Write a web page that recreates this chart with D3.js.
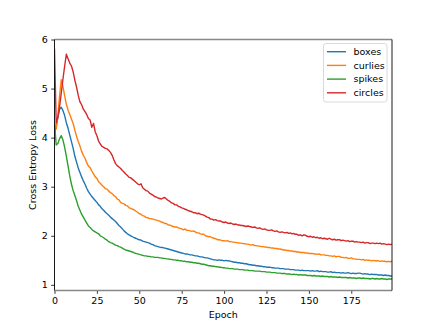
<!DOCTYPE html>
<html>
<head>
<meta charset="utf-8">
<script src="https://cdn.jsdelivr.net/npm/d3@7"></script>
<style>
  body { margin: 0; background: #fff; }
  text { font-family: "DejaVu Sans", sans-serif; }
</style>
</head>
<body>
<div id="chart"></div>
<script>
// loss per epoch
var seriesNames = ["boxes", "curlies", "spikes", "circles"];
var seriesColors = ["#1f77b4", "#ff7f0e", "#2ca02c", "#d62728"];

var boxes = [
  4.10, 4.22, 4.42, 4.58, 4.62, 4.55, 4.45, 4.30, 4.19, 4.05,
  3.92, 3.78, 3.62, 3.50, 3.38, 3.29, 3.20, 3.12, 3.05, 2.97,
  2.90, 2.85, 2.80, 2.76, 2.72, 2.68, 2.63, 2.60, 2.55, 2.52,
  2.48, 2.45, 2.42, 2.38, 2.35, 2.32, 2.29, 2.25, 2.21, 2.18,
  2.14, 2.10, 2.07, 2.04, 2.02, 2.00, 1.98, 1.96, 1.95, 1.93,
  1.92, 1.91, 1.89, 1.88, 1.87, 1.86, 1.85, 1.83, 1.82, 1.80,
  1.79, 1.78, 1.77, 1.76, 1.76, 1.75, 1.74, 1.73, 1.72, 1.71,
  1.70, 1.69, 1.68, 1.67, 1.66, 1.65, 1.64, 1.63, 1.63, 1.62,
  1.61, 1.61, 1.60, 1.59, 1.59, 1.58, 1.57, 1.57, 1.56, 1.55,
  1.55, 1.54, 1.53, 1.52, 1.51, 1.51, 1.50, 1.51, 1.50, 1.50,
  1.49, 1.50, 1.49, 1.49, 1.48, 1.47, 1.46, 1.46, 1.45, 1.45,
  1.44, 1.44, 1.43, 1.43, 1.42, 1.41, 1.41, 1.40, 1.40, 1.39,
  1.39, 1.38, 1.38, 1.37, 1.37, 1.36, 1.36, 1.36, 1.35, 1.35,
  1.34, 1.34, 1.34, 1.33, 1.33, 1.33, 1.32, 1.32, 1.32, 1.31,
  1.31, 1.31, 1.30, 1.30, 1.30, 1.29, 1.30, 1.29, 1.29, 1.29,
  1.29, 1.28, 1.29, 1.28, 1.28, 1.29, 1.27, 1.28, 1.27, 1.27,
  1.27, 1.26, 1.26, 1.27, 1.25, 1.26, 1.25, 1.25, 1.25, 1.24,
  1.25, 1.24, 1.24, 1.25, 1.24, 1.23, 1.24, 1.23, 1.23, 1.24,
  1.24, 1.23, 1.22, 1.23, 1.22, 1.22, 1.21, 1.22, 1.21, 1.21,
  1.21, 1.20, 1.20, 1.20, 1.19, 1.20, 1.19, 1.19, 1.18, 1.18
];

var curlies = [
  4.30, 4.18, 4.46, 4.86, 5.18, 5.04, 4.85, 4.68, 4.56, 4.47,
  4.38, 4.29, 4.15, 4.03, 3.92, 3.83, 3.72, 3.64, 3.58, 3.49,
  3.42, 3.39, 3.32, 3.26, 3.20, 3.17, 3.10, 3.07, 3.03, 3.00,
  2.96, 2.95, 2.91, 2.88, 2.86, 2.82, 2.80, 2.75, 2.73, 2.68,
  2.66, 2.65, 2.62, 2.61, 2.57, 2.56, 2.54, 2.53, 2.50, 2.48,
  2.45, 2.44, 2.41, 2.40, 2.37, 2.37, 2.35, 2.35, 2.34, 2.33,
  2.32, 2.31, 2.30, 2.28, 2.27, 2.25, 2.25, 2.22, 2.22, 2.20,
  2.19, 2.18, 2.18, 2.16, 2.15, 2.14, 2.12, 2.14, 2.11, 2.11,
  2.10, 2.09, 2.10, 2.08, 2.06, 2.06, 2.04, 2.03, 2.03, 2.00,
  1.99, 1.98, 1.98, 1.96, 1.95, 1.94, 1.92, 1.92, 1.91, 1.90,
  1.90, 1.89, 1.90, 1.88, 1.88, 1.87, 1.87, 1.86, 1.86, 1.85,
  1.85, 1.84, 1.84, 1.83, 1.83, 1.82, 1.81, 1.82, 1.80, 1.80,
  1.79, 1.79, 1.78, 1.78, 1.77, 1.77, 1.76, 1.76, 1.75, 1.75,
  1.74, 1.74, 1.73, 1.73, 1.72, 1.71, 1.71, 1.70, 1.70, 1.69,
  1.69, 1.68, 1.68, 1.67, 1.67, 1.66, 1.66, 1.66, 1.65, 1.65,
  1.64, 1.64, 1.64, 1.63, 1.63, 1.62, 1.63, 1.61, 1.61, 1.61,
  1.60, 1.60, 1.59, 1.59, 1.58, 1.59, 1.57, 1.58, 1.58, 1.56,
  1.56, 1.55, 1.56, 1.54, 1.54, 1.55, 1.53, 1.53, 1.52, 1.52,
  1.52, 1.51, 1.52, 1.50, 1.51, 1.50, 1.50, 1.49, 1.50, 1.49,
  1.49, 1.49, 1.48, 1.49, 1.48, 1.48, 1.47, 1.48, 1.47, 1.48
];

var spikes = [
  4.30, 3.85, 3.88, 3.98, 4.04, 3.95, 3.80, 3.62, 3.42, 3.22,
  3.05, 2.92, 2.82, 2.72, 2.60, 2.52, 2.44, 2.38, 2.32, 2.26,
  2.20, 2.17, 2.13, 2.10, 2.08, 2.06, 2.04, 2.00, 1.98, 1.96,
  1.93, 1.91, 1.88, 1.86, 1.85, 1.83, 1.81, 1.80, 1.78, 1.77,
  1.75, 1.73, 1.71, 1.70, 1.69, 1.68, 1.67, 1.65, 1.64, 1.63,
  1.62, 1.61, 1.60, 1.59, 1.59, 1.58, 1.58, 1.57, 1.57, 1.56,
  1.56, 1.56, 1.55, 1.55, 1.54, 1.54, 1.53, 1.53, 1.52, 1.52,
  1.51, 1.51, 1.50, 1.50, 1.49, 1.49, 1.48, 1.48, 1.47, 1.47,
  1.46, 1.46, 1.45, 1.45, 1.44, 1.44, 1.43, 1.42, 1.42, 1.41,
  1.40, 1.39, 1.39, 1.38, 1.38, 1.37, 1.37, 1.36, 1.36, 1.35,
  1.35, 1.34, 1.34, 1.33, 1.33, 1.33, 1.32, 1.32, 1.32, 1.31,
  1.31, 1.31, 1.30, 1.30, 1.30, 1.29, 1.29, 1.29, 1.28, 1.28,
  1.28, 1.28, 1.27, 1.27, 1.27, 1.26, 1.26, 1.26, 1.25, 1.25,
  1.25, 1.24, 1.24, 1.24, 1.23, 1.23, 1.23, 1.22, 1.22, 1.22,
  1.21, 1.22, 1.21, 1.21, 1.20, 1.21, 1.20, 1.20, 1.20, 1.19,
  1.19, 1.19, 1.18, 1.19, 1.18, 1.18, 1.18, 1.17, 1.18, 1.17,
  1.17, 1.17, 1.16, 1.17, 1.16, 1.16, 1.16, 1.15, 1.16, 1.15,
  1.15, 1.15, 1.15, 1.14, 1.15, 1.14, 1.14, 1.14, 1.13, 1.14,
  1.14, 1.13, 1.14, 1.13, 1.13, 1.13, 1.12, 1.13, 1.13, 1.12,
  1.13, 1.12, 1.12, 1.13, 1.12, 1.12, 1.11, 1.12, 1.12, 1.12
];

var circles = [
  5.80, 4.30, 4.42, 4.63, 4.91, 5.20, 5.46, 5.70, 5.61, 5.52,
  5.46, 5.34, 5.17, 5.03, 4.86, 4.73, 4.67, 4.58, 4.53, 4.47,
  4.39, 4.36, 4.21, 4.29, 4.12, 4.04, 3.93, 3.87, 3.82, 3.80,
  3.78, 3.77, 3.74, 3.70, 3.64, 3.55, 3.47, 3.43, 3.40, 3.37,
  3.33, 3.30, 3.26, 3.23, 3.19, 3.18, 3.15, 3.12, 3.09, 3.06,
  3.04, 3.06, 2.98, 2.95, 2.92, 2.91, 2.87, 2.85, 2.83, 2.80,
  2.79, 2.77, 2.76, 2.75, 2.77, 2.78, 2.75, 2.72, 2.70, 2.67,
  2.66, 2.63, 2.63, 2.60, 2.59, 2.57, 2.56, 2.54, 2.53, 2.51,
  2.50, 2.49, 2.47, 2.47, 2.45, 2.46, 2.44, 2.43, 2.42, 2.40,
  2.38, 2.37, 2.34, 2.34, 2.32, 2.33, 2.31, 2.30, 2.30, 2.28,
  2.27, 2.28, 2.26, 2.25, 2.26, 2.24, 2.23, 2.24, 2.22, 2.22,
  2.21, 2.21, 2.20, 2.19, 2.20, 2.19, 2.18, 2.17, 2.18, 2.16,
  2.15, 2.16, 2.14, 2.13, 2.14, 2.12, 2.11, 2.11, 2.12, 2.10,
  2.09, 2.10, 2.08, 2.07, 2.08, 2.07, 2.06, 2.07, 2.05, 2.06,
  2.04, 2.05, 2.03, 2.03, 2.01, 2.02, 2.00, 2.02, 2.01, 1.99,
  1.98, 1.99, 1.97, 1.98, 1.96, 1.97, 1.95, 1.96, 1.94, 1.95,
  1.94, 1.93, 1.95, 1.93, 1.92, 1.93, 1.91, 1.92, 1.92, 1.90,
  1.91, 1.90, 1.89, 1.90, 1.88, 1.89, 1.89, 1.87, 1.88, 1.87,
  1.87, 1.86, 1.87, 1.85, 1.86, 1.86, 1.84, 1.85, 1.85, 1.84,
  1.85, 1.84, 1.85, 1.83, 1.84, 1.83, 1.82, 1.83, 1.82, 1.83
];

var xTicks = [0, 25, 50, 75, 100, 125, 150, 175];
var yTicks = [1, 2, 3, 4, 5, 6];

var width = 436, height = 327;
var margin = {top: 39.5, right: 44, bottom: 36.5, left: 54.5};

var svg = d3.select("#chart").append("svg")
    .attr("width", width)
    .attr("height", height);

var x = d3.scaleLinear()
    .domain([0, 199])
    .range([margin.left, width - margin.right]);

var y = d3.scaleLinear()
    .domain([0.885, 6.0])
    .range([height - margin.bottom, margin.top]);

var series = [boxes, curlies, spikes, circles];

var line = d3.line()
    .x(function(d, i) { return x(i); })
    .y(function(d) { return y(d); });

svg.append("clipPath").attr("id", "clip")
  .append("rect")
    .attr("x", margin.left).attr("y", margin.top)
    .attr("width", width - margin.left - margin.right)
    .attr("height", height - margin.top - margin.bottom);

svg.append("g")
    .attr("clip-path", "url(#clip)")
  .selectAll("path")
    .data(series)
  .enter().append("path")
    .attr("d", line)
    .attr("fill", "none")
    .attr("stroke", function(d, i) { return seriesColors[i]; })
    .attr("stroke-width", 1.4)
    .attr("stroke-linejoin", "round")
    .attr("stroke-linecap", "square");

// axes
var xAxis = svg.append("g")
    .attr("transform", "translate(0," + (height - margin.bottom) + ")")
    .call(d3.axisBottom(x).tickValues(xTicks).tickFormat(d3.format("d"))
      .tickSize(3.3).tickPadding(3.3));

var yAxis = svg.append("g")
    .attr("transform", "translate(" + margin.left + ",0)")
    .call(d3.axisLeft(y).tickValues(yTicks).tickFormat(d3.format("d"))
      .tickSize(3.3).tickPadding(3.3));

[xAxis, yAxis].forEach(function(g) {
  g.select(".domain").remove();
  g.selectAll("text").attr("font-size", 9.5).attr("fill", "#000")
    .style("font-family", "DejaVu Sans");
  g.selectAll("line").attr("stroke", "#000").attr("stroke-width", 0.8);
});

// spines: top/bottom grey, left/right black
var x0 = margin.left, x1 = width - margin.right;
var y0 = margin.top, y1 = height - margin.bottom;
svg.append("line").attr("x1", x0).attr("x2", x1).attr("y1", y0).attr("y2", y0)
    .attr("stroke", "#888").attr("stroke-width", 1.6);
svg.append("line").attr("x1", x0).attr("x2", x1).attr("y1", y1).attr("y2", y1)
    .attr("stroke", "#888").attr("stroke-width", 1.6);
svg.append("line").attr("x1", x0).attr("x2", x0).attr("y1", y0).attr("y2", y1)
    .attr("stroke", "#000").attr("stroke-width", 0.9);
svg.append("line").attr("x1", x1).attr("x2", x1).attr("y1", y0).attr("y2", y1)
    .attr("stroke", "#000").attr("stroke-width", 0.9);

// axis labels
svg.append("text")
    .attr("x", (x0 + x1) / 2)
    .attr("y", 317.5)
    .attr("text-anchor", "middle")
    .attr("font-size", 9.5)
    .text("Epoch");

svg.append("text")
    .attr("transform", "translate(36," + ((y0 + y1) / 2) + ")rotate(-90)")
    .attr("text-anchor", "middle")
    .attr("font-size", 9.5)
    .text("Cross Entropy Loss");

// legend
var legend = svg.append("g");
legend.append("rect")
    .attr("x", 323.5).attr("y", 43.5)
    .attr("width", 63.5).attr("height", 58.5)
    .attr("rx", 2.5)
    .attr("fill", "#fff").attr("fill-opacity", 0.8)
    .attr("stroke", "#d0d0d0").attr("stroke-width", 0.8);

var items = legend.selectAll("g.item")
    .data(seriesNames)
  .enter().append("g")
    .attr("class", "item")
    .attr("transform", function(d, i) { return "translate(0," + (51.7 + i * 13.7) + ")"; });

items.append("line")
    .attr("x1", 327).attr("x2", 346)
    .attr("stroke", function(d, i) { return seriesColors[i]; })
    .attr("stroke-width", 1.4);

items.append("text")
    .attr("x", 353.5)
    .attr("dy", "0.35em")
    .attr("font-size", 9.5)
    .text(function(d) { return d; });
</script>
</body>
</html>
